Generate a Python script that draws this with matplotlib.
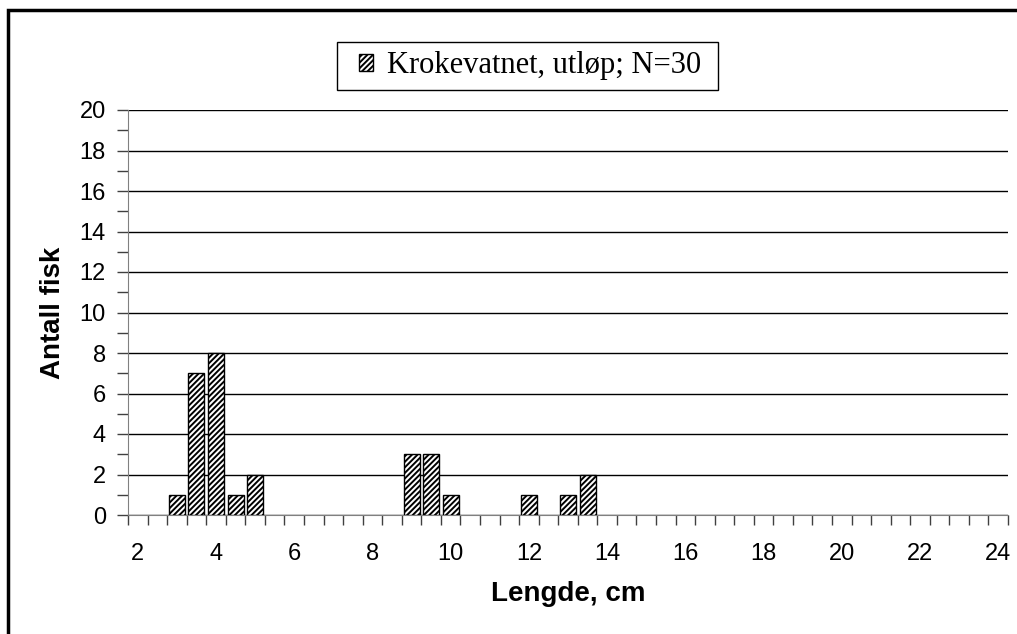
import numpy as np
import matplotlib
matplotlib.use('Agg')
from matplotlib import pyplot as plt
from matplotlib.patches import Rectangle

lengths = [3.0, 3.5, 4.0, 4.5, 5.0, 9.0, 9.5, 10.0, 12.0, 13.0, 13.5]
counts = [1, 7, 8, 1, 2, 3, 3, 1, 1, 1, 2]
xlabels = [2, 4, 6, 8, 10, 12, 14, 16, 18, 20, 22, 24]
legendText = 'Krokevatnet, utløp; N=30'

plt.rcParams['font.family'] = ['Liberation Sans', 'DejaVu Sans']
plt.rcParams['hatch.linewidth'] = 1.4

W, H = 1017., 634.
fig = plt.figure(figsize=(W/100, H/100), dpi=100)
ax = fig.add_axes([128/W, 1-515/H, 880/W, 405/H])

bars = ax.bar(lengths, counts, width=0.41, color='white', edgecolor='black',
              linewidth=1.0, hatch='//////', zorder=3,
              label=legendText)

ax.set_xlim(1.75, 24.25)
ax.set_ylim(0, 20)
ax.set_yticks(np.arange(0, 21, 2))
ax.set_yticks(np.arange(1, 20, 2), minor=True)
ax.set_xticks(xlabels)
ax.set_xticks(np.arange(1.75, 24.3, 0.5), minor=True)
ax.tick_params(axis='x', which='major', length=0, pad=20, labelsize=17)
ax.tick_params(axis='x', which='minor', length=7, width=1, direction='out', color='#404040')
ax.tick_params(axis='y', which='both', length=8, width=1, direction='out', labelsize=17, pad=8, color='#404040')
ax.yaxis.grid(True, which='major', color='black', linewidth=1.0, zorder=0)

for s in ['top', 'right']:
    ax.spines[s].set_visible(False)
ax.spines['left'].set_color('#808080')
ax.spines['bottom'].set_color('#808080')

ax.set_ylabel('Antall fisk', fontsize=20, fontweight='bold')
ax.set_xlabel('Lengde, cm', fontsize=20, fontweight='bold')
ax.yaxis.set_label_coords((53-128)/880., 0.5)
ax.xaxis.set_label_coords(0.5, (515-594)/405.)
ax.yaxis.label.set_verticalalignment('center')
ax.xaxis.label.set_verticalalignment('center')

# legend: entries without frame, box drawn separately
leg = fig.legend(handles=[bars], labels=[legendText], loc='center',
                 bbox_to_anchor=(530/W, 1-66/H), frameon=False,
                 handlelength=0.45, handleheight=0.45, handletextpad=0.45,
                 borderpad=0.3, borderaxespad=0,
                 prop={'family': 'Liberation Serif', 'size': 22})
fig.patches.append(Rectangle((337/W, 1-90/H), 381/W, 48/H,
                             transform=fig.transFigure, fill=False,
                             edgecolor='black', linewidth=1.0))

# outer chart border
fig.patches.append(Rectangle((8/W, -0.05), 1.2, 1-10/H+0.05,
                             transform=fig.transFigure, fill=False,
                             edgecolor='black', linewidth=2.5))

fig.savefig('out.png', dpi=100)
